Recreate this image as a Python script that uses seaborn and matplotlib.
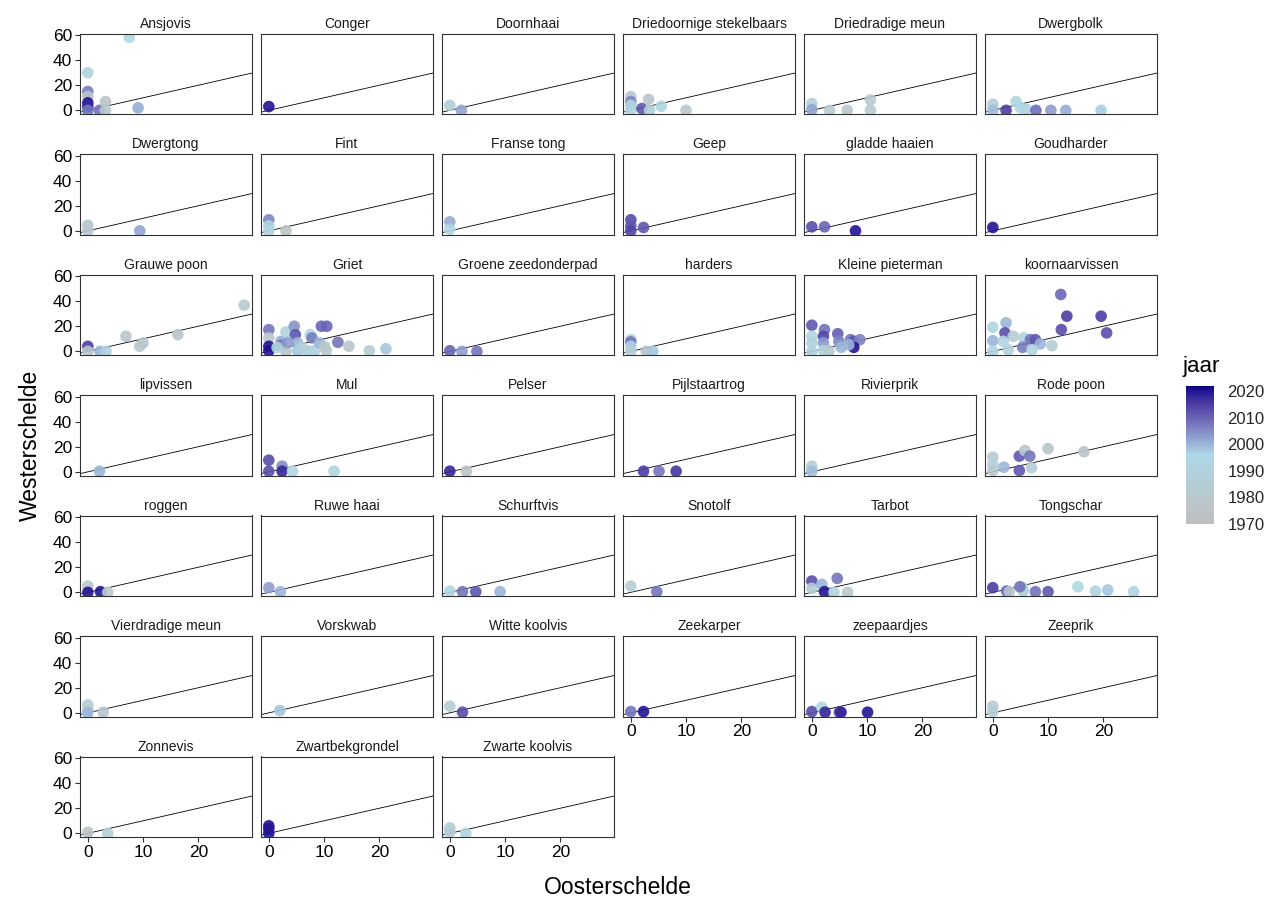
import numpy as np
import pandas as pd
import matplotlib
matplotlib.use("Agg")
import matplotlib.pyplot as plt
import seaborn as sns
from matplotlib.colors import ListedColormap, Normalize, to_rgb
from matplotlib.cm import ScalarMappable

# ---------------- data ----------------
soorten = ["Ansjovis", "Conger", "Doornhaai", "Driedoornige stekelbaars", "Driedradige meun", "Dwergbolk",
           "Dwergtong", "Fint", "Franse tong", "Geep", "gladde haaien", "Goudharder",
           "Grauwe poon", "Griet", "Groene zeedonderpad", "harders", "Kleine pieterman", "koornaarvissen",
           "lipvissen", "Mul", "Pelser", "Pijlstaartrog", "Rivierprik", "Rode poon",
           "roggen", "Ruwe haai", "Schurftvis", "Snotolf", "Tarbot", "Tongschar",
           "Vierdradige meun", "Vorskwab", "Witte koolvis", "Zeekarper", "zeepaardjes", "Zeeprik",
           "Zonnevis", "Zwartbekgrondel", "Zwarte koolvis"]

oost = [
    [7.5, 0, 0, 0, 0, 0, 0, 2.1, 3.2, 3.2, 9.1],                      # Ansjovis
    [0],                                                              # Conger
    [0, 2.1],                                                         # Doornhaai
    [0, 0, 0, 0, 2, 3.2, 3.4, 5.5, 10],                               # Driedoornige stekelbaars
    [0, 0, 3.2, 6.4, 10.6, 10.6],                                     # Driedradige meun
    [0, 0, 2.4, 4.2, 5, 6, 7.8, 10.5, 13.2, 19.6],                    # Dwergbolk
    [0, 0, 9.4],                                                      # Dwergtong
    [0, 0, 0, 3.1],                                                   # Fint
    [0, 0],                                                           # Franse tong
    [0, 0, 0, 2.3],                                                   # Geep
    [0, 2.3, 7.9],                                                    # gladde haaien
    [0],                                                              # Goudharder
    [0, 0, 2.2, 3.3, 6.9, 9.4, 10, 16.3, 28.3],                       # Grauwe poon
    [0, 0, 0, 0, 2.2, 2.2, 3.1, 3.1, 4.6, 4.8, 5.2, 5.2, 7, 7.5, 7.8, 8.3, 9.2, 9.5, 10.5,
     10.1, 10.4, 12.5, 14.5, 18.2, 21.2, 1.5, 6, 3.5],               # Griet
    [0, 2.2, 4.9],                                                    # Groene zeedonderpad
    [0, 0, 0, 0, 2.8, 4],                                             # harders
    [0, 0, 0, 0, 2.3, 2.1, 2.1, 2.1, 3.1, 4.7, 4.9, 5.3, 7, 7.6, 8.7, 7.6, 6.7],  # Kleine pieterman
    [0, 0, 0, 2.4, 2.2, 1.9, 3.7, 5.6, 6.8, 7.7, 8.6, 10.7, 5.4, 2.8, 7.1, 12.3, 13.4, 12.4,
     19.6, 20.6],                                                     # koornaarvissen
    [2.1],                                                            # lipvissen
    [0, 0, 2.4, 2.4, 4.3, 11.8],                                      # Mul
    [0, 3],                                                           # Pelser
    [2.3, 5.1, 8.2],                                                  # Pijlstaartrog
    [0, 0],                                                           # Rivierprik
    [0, 0, 0, 2, 4.8, 5.8, 6.7, 4.8, 7, 10, 16.5],                    # Rode poon
    [0, 0, 2.3, 3.6],                                                 # roggen
    [0, 2.1],                                                         # Ruwe haai
    [0, 2.3, 4.7, 9.1],                                               # Schurftvis
    [0, 4.7],                                                         # Snotolf
    [0, 0, 1.8, 2.3, 4, 4.6, 6.5],                                    # Tarbot
    [0, 2.5, 3, 5.5, 5.4, 4.9, 7.7, 10, 15.4, 18.6, 20.8, 25.5],      # Tongschar
    [0, 0, 0, 2.8],                                                   # Vierdradige meun
    [2],                                                              # Vorskwab
    [0, 2.3],                                                         # Witte koolvis
    [0, 2.3],                                                         # Zeekarper
    [0, 1.8, 2.4, 5, 5.3, 10.1],                                      # zeepaardjes
    [0, 0],                                                           # Zeeprik
    [0, 3.6],                                                         # Zonnevis
    [0, 0, 0],                                                        # Zwartbekgrondel
    [0, 0, 2.9],                                                      # Zwarte koolvis
]

west = [
    [58.3, 30, 15, 11, 6, 3, 0, 0, 7, 0, 2],
    [3],
    [4, 0],
    [11, 7, 4, 0, 1.4, 8.7, 0, 3.3, 0],
    [5.4, 0.5, 0, 0, 8.2, 0],
    [4.9, 0, 0, 7, 2, 1, 0, 0, 0, 0],
    [4.5, 0, 0],
    [8.8, 4, 0, 0],
    [7.2, 1.3],
    [8.8, 4, 0, 2.7],
    [3.2, 3.2, 0],
    [2.7],
    [4, 0, 0, 0, 12, 4, 6.7, 13.3, 36.8],
    [17.3, 10.7, 4, 0.5, 8, 5, 15.5, 0, 20, 13.3, 6.7, 0.5, 0.5, 13.3, 10.7, 0.5, 6.7, 20, 20,
     4, 0.5, 7.2, 4, 0.5, 2.1, 3, 3, 7],
    [0.5, 0, 0],
    [9.3, 7.5, 4, 0, 0, 0],
    [20.8, 12, 6.7, 0, 17.3, 12, 6.7, 0.5, 0.5, 14, 8, 3.2, 9.3, 8, 9.3, 3.2, 5.3],
    [19.2, 8.5, 0, 22.7, 14.7, 8, 12, 10.7, 9.3, 9.3, 5.9, 4.5, 3.2, 1.3, 1.3, 45.3, 28, 17.3,
     28, 14.7],
    [0.5],
    [9.3, 0.5, 4.5, 0.5, 0.5, 0.5],
    [0.5, 0.5],
    [0.5, 0.5, 0.5],
    [4.5, 0.5],
    [11.7, 5.8, 1, 3.7, 12.5, 17, 12.5, 1, 3.2, 18.5, 16],
    [5, 0, 0.5, 0],
    [3.7, 0.5],
    [1, 0.5, 0.5, 0.5],
    [5, 0.5],
    [9, 3.2, 6.4, 0.5, 0, 11.1, 0],
    [3.7, 1, 0.5, 1, 3.7, 4.5, 0.5, 0.5, 4.5, 1, 1.9, 0.5],
    [6.3, 2, 0, 0.5],
    [1.8],
    [5.3, 0.5],
    [1, 1],
    [1, 4.5, 0.5, 0.5, 0.5, 0.5],
    [5.3, 1],
    [0.8, 0],
    [6, 3.5, 0],
    [4.3, 1, 0],
]

jaar = [
    [1993, 1992, 2007, 1978, 2020, 2018, 2008, 2008, 1976, 1980, 2001],
    [2020],
    [1986, 2002],
    [1983, 2006, 1992, 1993, 2012, 1978, 1988, 1993, 1979],
    [1987, 2002, 1983, 1980, 1981, 1983],
    [1986, 1999, 2015, 1993, 1994, 1992, 2009, 2003, 2001, 1997],
    [1978, 1980, 2002],
    [2006, 1993, 1991, 1975],
    [2001, 1993],
    [2013, 2012, 2014, 2012],
    [2013, 2010, 2020],
    [2020],
    [2015, 1980, 2000, 1990, 1978, 1980, 1979, 1978, 1982],
    [2008, 1978, 2020, 2020, 2001, 2007, 1992, 1978, 2004, 2012, 2000, 1998, 1985, 1993, 2007,
     1992, 2000, 2010, 2010, 1980, 1980, 2008, 1978, 1985, 1998, 1992, 1990, 2003],
    [2010, 2003, 2008],
    [1993, 2008, 1992, 1985, 1976, 1998],
    [2012, 1993, 1991, 1990, 2008, 2014, 2003, 1990, 1982, 2011, 2006, 2000, 2008, 2012, 2006,
     2020, 2000],
    [1993, 2000, 1992, 2000, 2013, 1992, 1983, 1992, 2008, 2012, 2000, 1985, 2007, 1990, 1992,
     2010, 2015, 2013, 2015, 2013],
    [2000],
    [2013, 2013, 2005, 2018, 1993, 1993],
    [2018, 1975],
    [2015, 2008, 2016],
    [1985, 1999],
    [1983, 1990, 1980, 2000, 2012, 1978, 2008, 2012, 1985, 1978, 1978],
    [1980, 2020, 2020, 1980],
    [2003, 2000],
    [1993, 2008, 2012, 2000],
    [1985, 2008],
    [2013, 1985, 2000, 2020, 1992, 2008, 1980],
    [2015, 2010, 1980, 1985, 1993, 2008, 2008, 2012, 1995, 1992, 1998, 1992],
    [1985, 1986, 2000, 1978],
    [1998],
    [1985, 2013],
    [2008, 2020],
    [2013, 1993, 2018, 2015, 2018, 2020],
    [1985, 1986],
    [1975, 1988],
    [2020, 2020, 2020],
    [1985, 1986, 1992],
]

jaar_ticks = [1970, 1980, 1990, 2000, 2010, 2020]
jaar_bereik = (1970, 2022)
kleuren = ["#BEBEBE", "#ADD8E6", "#00008B"]   # grey -> lightblue -> darkblue

rows = []
for s, xs, ys, js in zip(soorten, oost, west, jaar):
    assert len(xs) == len(ys) == len(js), s
    for x, y, j in zip(xs, ys, js):
        rows.append((s, x, y, j))
df = pd.DataFrame(rows, columns=["soort", "Oosterschelde", "Westerschelde", "jaar"])


# ---------------- colour ramp interpolated in CIELAB (like ggplot2) ----------------
def _srgb_to_lab(rgb):
    rgb = np.asarray(rgb, float)
    lin = np.where(rgb <= 0.04045, rgb / 12.92, ((rgb + 0.055) / 1.055) ** 2.4)
    M = np.array([[0.4124564, 0.3575761, 0.1804375],
                  [0.2126729, 0.7151522, 0.0721750],
                  [0.0193339, 0.1191920, 0.9503041]])
    xyz = M @ lin
    wp = np.array([0.95047, 1.0, 1.08883])
    t = xyz / wp
    f = np.where(t > (6 / 29) ** 3, np.cbrt(t), t / (3 * (6 / 29) ** 2) + 4 / 29)
    return np.array([116 * f[1] - 16, 500 * (f[0] - f[1]), 200 * (f[1] - f[2])])


def _lab_to_srgb(lab):
    L, a, b = lab
    fy = (L + 16) / 116
    fx = fy + a / 500
    fz = fy - b / 200
    f = np.array([fx, fy, fz])
    t = np.where(f > 6 / 29, f ** 3, 3 * (6 / 29) ** 2 * (f - 4 / 29))
    xyz = t * np.array([0.95047, 1.0, 1.08883])
    Minv = np.array([[3.2404542, -1.5371385, -0.4985314],
                     [-0.9692660, 1.8760108, 0.0415560],
                     [0.0556434, -0.2040259, 1.0572252]])
    lin = np.clip(Minv @ xyz, 0, 1)
    return np.where(lin <= 0.0031308, 12.92 * lin, 1.055 * lin ** (1 / 2.4) - 0.055).clip(0, 1)


labs = [_srgb_to_lab(to_rgb(k)) for k in kleuren]
ramp = []
for t in np.linspace(0, 1, 256):
    seg = min(int(t * 2), 1)
    u = t * 2 - seg
    ramp.append(_lab_to_srgb(labs[seg] * (1 - u) + labs[seg + 1] * u))
cmap = ListedColormap(ramp, name="jaar")
norm = Normalize(*jaar_bereik)

# ---------------- style ----------------
sns.set_style("white")
plt.rcParams["font.family"] = ["Liberation Sans", "DejaVu Sans"]
plt.rcParams["text.color"] = "black"

g = sns.FacetGrid(df, col="soort", col_wrap=6, col_order=soorten, sharex=True, sharey=True,
                  despine=False, height=1.2, aspect=2.1)
g.map_dataframe(sns.scatterplot, x="Oosterschelde", y="Westerschelde", hue="jaar",
                palette=cmap, hue_norm=norm, s=70, alpha=0.9, edgecolor="none",
                linewidth=0, legend=False)

fig = g.figure
fig.set_size_inches(12.75, 9.01)
fig.set_dpi(100)
W, H = 1275.0, 901.0

xmin, xmax = df["Oosterschelde"].min(), df["Oosterschelde"].max()
ymin, ymax = df["Westerschelde"].min(), df["Westerschelde"].max()
xpad = 0.05 * (xmax - xmin)
ypad = 0.05 * (ymax - ymin)

col_left = [80, 261, 442, 623, 804, 985]
row_top = [33.5, 154, 274.5, 395, 515.5, 636, 756.5]
pw, ph = 172, 80.5
edge = "#333333"

n = len(soorten)
for i, ax in enumerate(g.axes.flat):
    r, c = divmod(i, 6)
    ax.set_position([col_left[c] / W, 1 - (row_top[r] + ph) / H, pw / W, ph / H])
    ax.axline((0, 0), slope=1, color="black", lw=0.6, zorder=0)
    ax.set_xlim(xmin - xpad, xmax + xpad)
    ax.set_ylim(ymin - ypad, ymax + ypad)
    ax.set_xticks([0, 10, 20])
    ax.set_yticks([0, 20, 40, 60])
    ax.set_xlabel("")
    ax.set_ylabel("")
    for sp in ax.spines.values():
        sp.set_color(edge)
        sp.set_linewidth(0.8)
    show_y = (c == 0)
    show_x = (i + 6 >= n)
    ax.tick_params(axis="y", left=show_y, labelleft=show_y, length=3.5, width=0.8,
                   color=edge, pad=2, labelsize=12.5, labelcolor="black")
    ax.tick_params(axis="x", bottom=show_x, labelbottom=show_x, length=3.5, width=0.8,
                   color=edge, pad=2, labelsize=12.5, labelcolor="black")
    ax.set_title(soorten[i], fontsize=10, pad=4, color="#1a1a1a")
    ax.grid(False)

fig.text(618 / W, 1 - 888 / H, "Oosterschelde", ha="center", va="center", fontsize=16.5)
fig.text(30 / W, 1 - 445 / H, "Westerschelde", ha="center", va="center", rotation=90,
         fontsize=16.5)

# colour bar legend
cax = fig.add_axes([1186 / W, 1 - 524 / H, 27.5 / W, 138 / H])
cb = fig.colorbar(ScalarMappable(norm=norm, cmap=cmap), cax=cax, ticks=jaar_ticks)
cb.outline.set_visible(False)
cax.tick_params(axis="y", direction="in", color="white", length=5, width=0.8,
                left=True, right=True, labelsize=12, pad=10)
fig.text(1183 / W, 1 - 372 / H, "jaar", ha="left", va="baseline", fontsize=16)

fig.savefig("out.png", dpi=100)
